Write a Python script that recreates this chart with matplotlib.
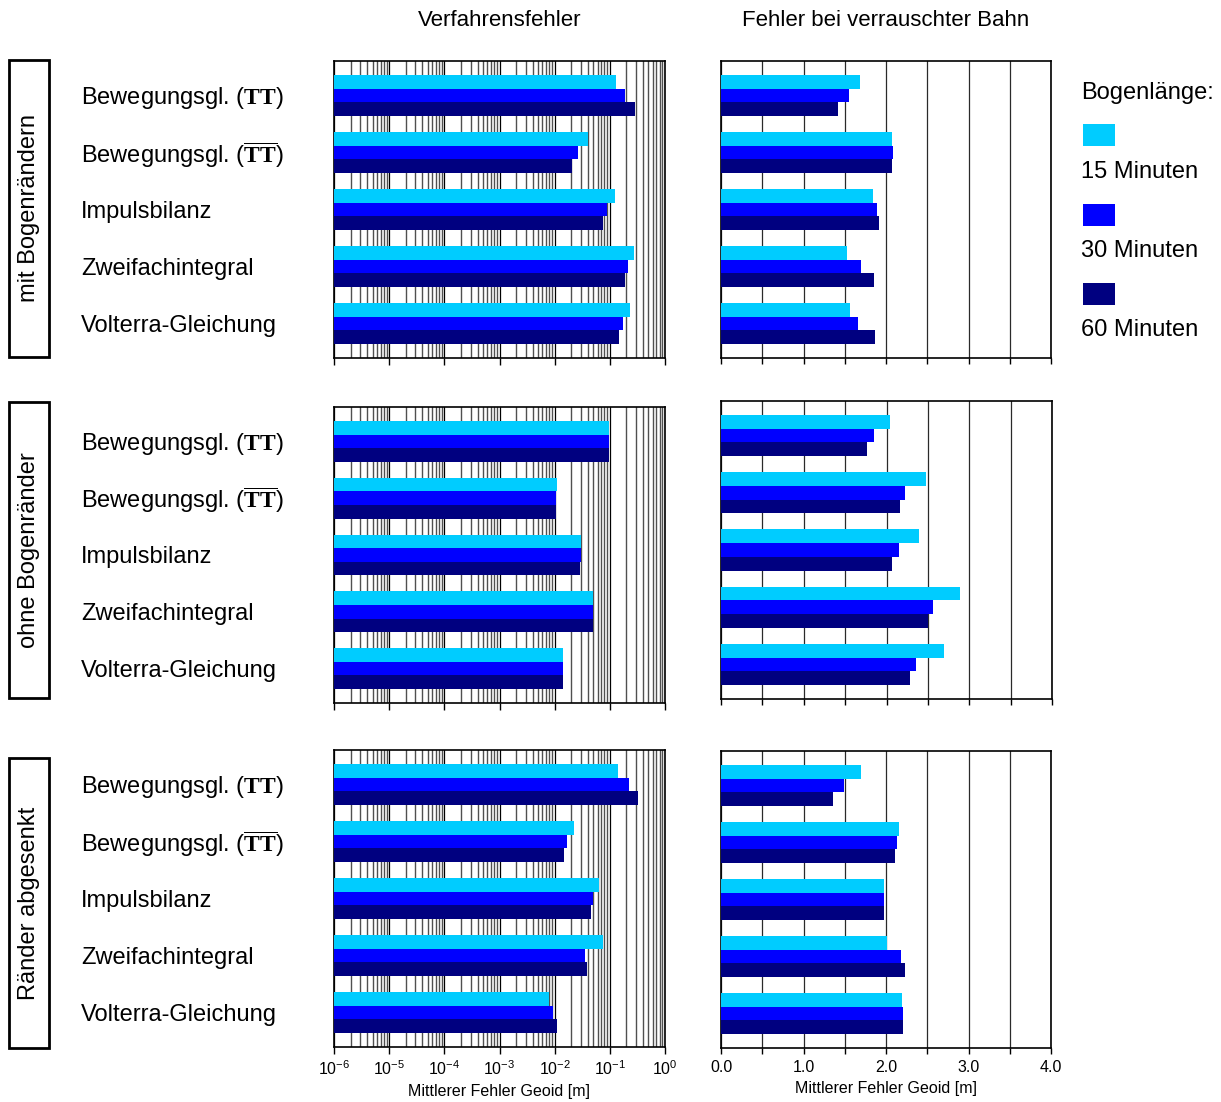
import matplotlib
matplotlib.use('Agg')
import matplotlib.pyplot as plt
from matplotlib.patches import Rectangle
from matplotlib.ticker import LogLocator, LogFormatterMathtext, MultipleLocator, FixedLocator, NullFormatter
import matplotlib.transforms as mtrans
import numpy as np

plt.rcParams['font.family'] = 'Liberation Sans'
plt.rcParams['mathtext.fontset'] = 'custom'
plt.rcParams['mathtext.rm'] = 'Liberation Sans'
plt.rcParams['mathtext.it'] = 'Liberation Sans:italic'
plt.rcParams['mathtext.bf'] = 'Liberation Serif:bold'

# ---------------- data ----------------
categories = ['Bewegungsgl. ($\\mathbf{TT}$)',
              'Bewegungsgl. ($\\overline{\\mathbf{TT}}$)',
              'Impulsbilanz', 'Zweifachintegral', 'Volterra-Gleichung']
row_titles = ['mit Bogenrändern', 'ohne Bogenränder', 'Ränder abgesenkt']
col_titles = ['Verfahrensfehler', 'Fehler bei verrauschter Bahn']
series_labels = ['15 Minuten', '30 Minuten', '60 Minuten']
legend_title = 'Bogenlänge:'
xlabel = 'Mittlerer Fehler Geoid [m]'
right_ticklabels = ['0.0', '1.0', '2.0', '3.0', '4.0']

# Verfahrensfehler (log scale) [m]
verf_mit_15 = [0.128, 0.040, 0.123, 0.273, 0.231]
verf_mit_30 = [0.187, 0.027, 0.088, 0.212, 0.172]
verf_mit_60 = [0.285, 0.021, 0.075, 0.187, 0.146]
verf_ohne_15 = [0.096, 0.0109, 0.0297, 0.049, 0.014]
verf_ohne_30 = [0.096, 0.0104, 0.0297, 0.049, 0.014]
verf_ohne_60 = [0.096, 0.0104, 0.0285, 0.049, 0.014]
verf_abg_15 = [0.140, 0.0221, 0.063, 0.0747, 0.0078]
verf_abg_30 = [0.221, 0.0165, 0.049, 0.0351, 0.0092]
verf_abg_60 = [0.323, 0.0146, 0.0452, 0.0382, 0.0109]

# Fehler bei verrauschter Bahn (linear) [m]
noise_mit_15 = [1.68, 2.07, 1.84, 1.53, 1.56]
noise_mit_30 = [1.55, 2.08, 1.89, 1.70, 1.66]
noise_mit_60 = [1.42, 2.07, 1.91, 1.85, 1.87]
noise_ohne_15 = [2.04, 2.48, 2.39, 2.89, 2.69]
noise_ohne_30 = [1.85, 2.22, 2.15, 2.56, 2.36]
noise_ohne_60 = [1.76, 2.16, 2.07, 2.50, 2.29]
noise_abg_15 = [1.70, 2.16, 1.98, 2.01, 2.19]
noise_abg_30 = [1.49, 2.13, 1.98, 2.18, 2.20]
noise_abg_60 = [1.36, 2.11, 1.98, 2.23, 2.20]

colors = ['#00CCFF', '#0000FF', '#000080']

verf = [[verf_mit_15, verf_mit_30, verf_mit_60],
        [verf_ohne_15, verf_ohne_30, verf_ohne_60],
        [verf_abg_15, verf_abg_30, verf_abg_60]]
noise = [[noise_mit_15, noise_mit_30, noise_mit_60],
         [noise_ohne_15, noise_ohne_30, noise_ohne_60],
         [noise_abg_15, noise_abg_30, noise_abg_60]]

# ---------------- layout ----------------
W, H = 1221, 1102
fig = plt.figure(figsize=(W / 100, H / 100), dpi=100)


def box(x0, y0, x1, y1):
    return [x0 / W, 1 - y1 / H, (x1 - x0) / W, (y1 - y0) / H]


left_boxes = [(334, 61, 665, 358), (334, 407, 665, 703), (334, 750, 665, 1047)]
right_boxes = [(721, 61, 1051, 358), (721, 401, 1052, 699), (721, 751, 1051, 1048)]
row_label_boxes = [(9, 60, 49, 357), (9, 402, 49, 698), (9, 758, 49, 1048)]

bh = 0.24
ypos = np.arange(len(categories))
XMIN = 1e-6

for r in range(3):
    # ---- left: log ----
    ax = fig.add_axes(box(*left_boxes[r]))
    for k in range(3):
        vals = np.array(verf[r][k])
        ax.barh(ypos + (k - 1) * bh, vals - XMIN, left=XMIN, height=bh,
                color=colors[k], edgecolor='none', zorder=3)
    ax.set_xscale('log')
    ax.set_xlim(1e-6, 1e0)
    ax.set_ylim(len(categories) - 1 + 0.605, -0.605)
    ax.xaxis.set_major_locator(LogLocator(base=10, numticks=20))
    ax.xaxis.set_minor_locator(LogLocator(base=10, subs=np.arange(2, 10), numticks=20))
    ax.xaxis.set_minor_formatter(NullFormatter())
    ax.grid(which='major', axis='x', color='#000000', lw=0.9, zorder=1)
    ax.grid(which='minor', axis='x', color='#505050', lw=1.0, zorder=1)
    ax.set_yticks([])
    ax.tick_params(axis='x', which='major', direction='out', length=5, width=1,
                   labelsize=11.5, pad=4)
    ax.tick_params(axis='x', which='minor', length=0)
    for s in ax.spines.values():
        s.set_linewidth(1.2)
    if r == 2:
        ax.xaxis.set_major_formatter(LogFormatterMathtext())
        ax.set_xlabel(xlabel, fontsize=11.5, labelpad=4)
    else:
        ax.set_xticklabels([])

    # category labels
    tr = mtrans.blended_transform_factory(fig.transFigure, ax.transData)
    for i, c in enumerate(categories):
        ax.text(81 / W, i + 0.04, c, transform=tr, ha='left', va='center', fontsize=17)

    # ---- right: linear ----
    ax2 = fig.add_axes(box(*right_boxes[r]))
    for k in range(3):
        ax2.barh(ypos + (k - 1) * bh, noise[r][k], height=bh,
                 color=colors[k], edgecolor='none', zorder=3)
    ax2.set_xlim(0, 4)
    ax2.set_ylim(len(categories) - 1 + 0.605, -0.605)
    ax2.xaxis.set_major_locator(FixedLocator([0, 1, 2, 3, 4]))
    ax2.xaxis.set_minor_locator(MultipleLocator(0.5))
    ax2.grid(which='both', axis='x', color='#2a2a2a', lw=0.9, zorder=1)
    ax2.set_yticks([])
    ax2.tick_params(axis='x', which='both', direction='out', length=4, width=1,
                    labelsize=11.5, pad=5)
    for s in ax2.spines.values():
        s.set_linewidth(1.2)
    if r == 2:
        ax2.set_xticklabels(right_ticklabels)
        ax2.set_xlabel(xlabel, fontsize=11.5, labelpad=4)
    else:
        ax2.set_xticklabels([])

    # row labels with box
    x0, y0, x1, y1 = row_label_boxes[r]
    fig.patches.append(Rectangle((x0 / W, 1 - y1 / H), (x1 - x0) / W, (y1 - y0) / H,
                                 transform=fig.transFigure, fill=False,
                                 edgecolor='black', lw=2))
    fig.text((x0 + x1) / 2 / W, 1 - (y0 + y1) / 2 / H, row_titles[r], rotation=90,
             ha='center', va='center', fontsize=17)

# column titles
fig.text(500 / W, 1 - 21 / H, col_titles[0], ha='center', va='center', fontsize=16)
fig.text(886 / W, 1 - 21 / H, col_titles[1], ha='center', va='center', fontsize=16)

# legend
fig.text(1081 / W, 1 - 93 / H, legend_title, ha='left', va='center', fontsize=17)
patch_y = [124, 204, 283]
label_y = [172, 251, 330]
for k in range(3):
    fig.patches.append(Rectangle((1083 / W, 1 - (patch_y[k] + 22) / H), 32 / W, 22 / H,
                                 transform=fig.transFigure, facecolor=colors[k],
                                 edgecolor='none'))
    fig.text(1081 / W, 1 - label_y[k] / H, series_labels[k], ha='left', va='center',
             fontsize=17)

fig.savefig('out.png', dpi=100)
